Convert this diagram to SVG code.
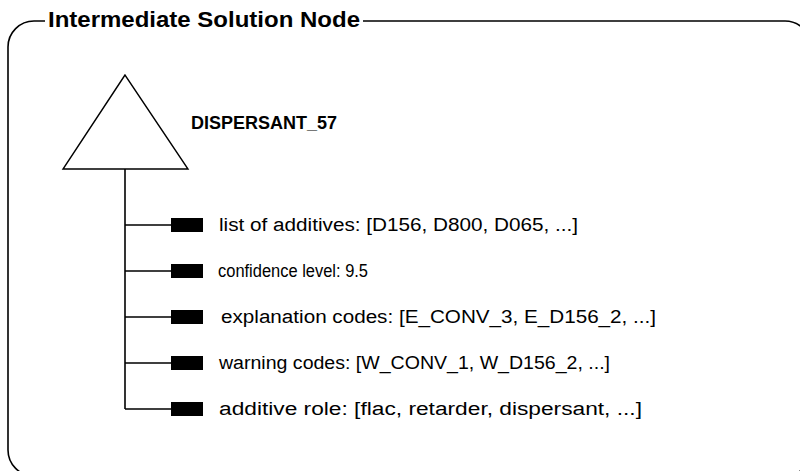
<svg xmlns="http://www.w3.org/2000/svg" width="800" height="471" viewBox="0 0 800 471">
  <style>
    .frame { fill: none; stroke: #000; stroke-width: 1.6; }
    .title { font-family: "Liberation Sans", Arial, sans-serif; font-weight: bold; font-size: 22px; fill: #000; }
    .name { font-family: "Liberation Sans", Arial, sans-serif; font-weight: bold; font-size: 18px; fill: #000; }
    .attr { font-family: "Liberation Sans", Arial, sans-serif; font-size: 18px; fill: #000; }
    .wire { fill: none; stroke: #000; stroke-width: 1.6; }
    .tri { fill: #fff; stroke: #000; stroke-width: 1.4; }
    .port { fill: #000; }
  </style>

  <!-- outer rounded frame with a gap for the title -->
  <g id="frame">
    <path class="frame" d="M45,21 H34 A26,26 0 0 0 8,47 V450 A26,26 0 0 0 34,476 H785 A26,26 0 0 0 811,450 V47 A26,26 0 0 0 785,21 H363"/>
    <text class="title" x="48" y="27" textLength="312" lengthAdjust="spacingAndGlyphs">Intermediate Solution Node</text>
  </g>

  <!-- connectors: trunk and branches -->
  <g id="connectors">
    <path class="wire" d="M125,169 V409"/>
    <path class="wire" d="M125,225 H172 M125,271 H172 M125,317 H172 M125,363 H172 M125,409 H172"/>
  </g>

  <g id="root">
    <polygon class="tri" points="125,75 63,169 188,169"/>
    <text class="name" x="191" y="129" textLength="146" lengthAdjust="spacingAndGlyphs">DISPERSANT_57</text>
  </g>

  <g id="attr-additives">
    <rect class="port" x="171" y="218" width="32" height="14"/>
    <text class="attr" x="219" y="231" textLength="359" lengthAdjust="spacingAndGlyphs">list of additives: [D156, D800, D065, ...]</text>
  </g>

  <g id="attr-confidence">
    <rect class="port" x="171" y="264" width="32" height="14"/>
    <text class="attr" x="218" y="277" font-size="17" textLength="150" lengthAdjust="spacingAndGlyphs">confidence level: 9.5</text>
  </g>

  <g id="attr-explanation">
    <rect class="port" x="171" y="310" width="32" height="14"/>
    <text class="attr" x="221" y="323" textLength="435" lengthAdjust="spacingAndGlyphs">explanation codes: [E_CONV_3, E_D156_2, ...]</text>
  </g>

  <g id="attr-warning">
    <rect class="port" x="171" y="356" width="32" height="14"/>
    <text class="attr" x="219" y="369" textLength="391" lengthAdjust="spacingAndGlyphs">warning codes: [W_CONV_1, W_D156_2, ...]</text>
  </g>

  <g id="attr-role">
    <rect class="port" x="171" y="402" width="32" height="14"/>
    <text class="attr" x="219" y="415" textLength="423" lengthAdjust="spacingAndGlyphs">additive role: [flac, retarder, dispersant, ...]</text>
  </g>
</svg>
